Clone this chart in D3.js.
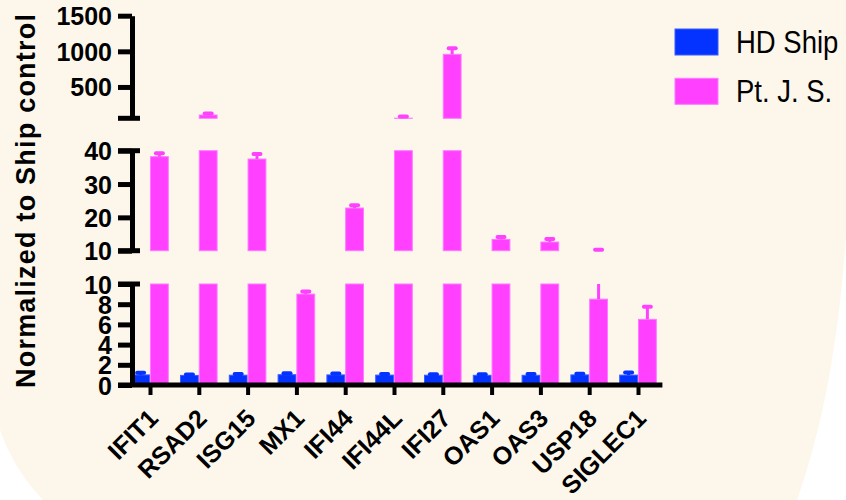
<!DOCTYPE html>
<html lang="en">
<head>
<meta charset="UTF-8">
<title>Normalized to Ship control</title>
<script src="https://d3js.org/d3.v7.min.js"></script>
<style>
    body { margin: 0; background: #ffffff; }
    svg { display: block; font-family: "Liberation Sans", Arial, sans-serif; }
    .tick text { font-weight: bold; fill: #000; }
</style>
</head>
<body>
<svg width="846" height="500"></svg>
<script>
// data
var genes = ["IFIT1", "RSAD2", "ISG15", "MX1", "IFI44", "IFI44L", "IFI27", "OAS1", "OAS3", "USP18", "SIGLEC1"];
var seriesNames = ["HD Ship", "Pt. J. S."];
var hdShip    = [1.00, 0.95, 0.97, 1.02, 1.00, 0.98, 0.97, 0.96, 0.96, 1.00, 0.98];
var hdShipErr = [0.22, 0.10, 0.12, 0.14, 0.15, 0.10, 0.10, 0.10, 0.12, 0.12, 0.25];
var ptJS      = [38.2, 106, 37.5, 9.0, 22.8, 62, 958, 13.4, 12.6, 8.5, 6.5];
var ptJSErr   = [1.0, 20, 1.5, 0.25, 0.8, 22, 84, 0.7, 0.9, 1.75, 1.25];

// broken y axis: three pieces
var lowTicks = [0, 2, 4, 6, 8, 10];
var midTicks = [10, 20, 30, 40];
var topTicks = [500, 1000, 1500];
var lowDomain = [0, 10], midDomain = [10, 40], topDomain = [60, 1500];

var colors = ["#0433ff", "#ff40ff"];
var edge = ["#3a5cff", "#ff78ff"];

var svg = d3.select("svg");
var W = 846, H = 500;

// background: cream sheet with white bottom corners
svg.append("rect").attr("width", W).attr("height", H).attr("fill", "#ffffff");
svg.append("path")
    .attr("d", "M0,0 H846 V235 Q836,390 797,500 H43 Q14,470 0,430 Z")
    .attr("fill", "#fdf7eb");

var axisX = 132;
var segs = [
    { y: d3.scaleLinear().domain(lowDomain).range([385, 284]), ticks: lowTicks, capTop: true, capBottom: false },
    { y: d3.scaleLinear().domain(midDomain).range([250.7, 150.7]), ticks: midTicks, capTop: true, capBottom: true },
    { y: d3.scaleLinear().domain(topDomain).range([118.3, 15.7]), ticks: topTicks, capTop: false, capBottom: true }
];

var x = d3.scaleBand().domain(genes).range([119.5, 668.5]).padding(0.25);
var xs = d3.scaleBand().domain(seriesNames).range([0, x.bandwidth()]).paddingInner(0.05);

var rows = [];
genes.forEach(function(g, i) {
    rows.push({ gene: g, s: 0, v: hdShip[i], e: hdShipErr[i] });
    rows.push({ gene: g, s: 1, v: ptJS[i], e: ptJSErr[i] });
});

var plot = svg.append("g");

segs.forEach(function(seg) {
    var y = seg.y, lo = y.domain()[0], hi = y.domain()[1];
    var g = plot.append("g");

    // bars clipped to the piece
    g.selectAll("rect")
        .data(rows.filter(function(d) { return d.v > lo; }))
        .enter().append("rect")
        .attr("x", function(d) { return x(d.gene) + xs(seriesNames[d.s]); })
        .attr("width", xs.bandwidth())
        .attr("y", function(d) { return y(Math.min(d.v, hi)); })
        .attr("height", function(d) { return y(lo) - y(Math.min(d.v, hi)); })
        .attr("fill", function(d) { return colors[d.s]; })
        .attr("stroke", function(d) { return edge[d.s]; })
        .attr("stroke-width", 1);

    // upper error bars
    var errs = rows.filter(function(d) { return Math.min(d.v + d.e, hi) > Math.max(d.v, lo); });
    g.selectAll("line.err")
        .data(errs)
        .enter().append("line")
        .attr("class", "err")
        .attr("x1", function(d) { return x(d.gene) + xs(seriesNames[d.s]) + xs.bandwidth() / 2; })
        .attr("x2", function(d) { return x(d.gene) + xs(seriesNames[d.s]) + xs.bandwidth() / 2; })
        .attr("y1", function(d) { return y(Math.max(d.v, lo)); })
        .attr("y2", function(d) { return y(Math.min(d.v + d.e, hi)); })
        .attr("stroke", function(d) { return colors[d.s]; })
        .attr("stroke-width", 3);

    var caps = rows.filter(function(d) { return d.v + d.e >= lo && d.v + d.e <= hi; });
    g.selectAll("line.cap")
        .data(caps)
        .enter().append("line")
        .attr("class", "cap")
        .attr("x1", function(d) { return x(d.gene) + xs(seriesNames[d.s]) + xs.bandwidth() / 2 - 3.5; })
        .attr("x2", function(d) { return x(d.gene) + xs(seriesNames[d.s]) + xs.bandwidth() / 2 + 3.5; })
        .attr("y1", function(d) { return y(d.v + d.e); })
        .attr("y2", function(d) { return y(d.v + d.e); })
        .attr("stroke", function(d) { return colors[d.s]; })
        .attr("stroke-width", 4)
        .attr("stroke-linecap", "round");
});

// y axis pieces
segs.forEach(function(seg) {
    var ax = svg.append("g")
        .attr("transform", "translate(" + axisX + ",0)")
        .call(d3.axisLeft(seg.y).tickValues(seg.ticks).tickFormat(d3.format("d"))
            .tickSize(14).tickSizeOuter(0).tickPadding(6));
    ax.select(".domain").attr("stroke", "#000").attr("stroke-width", 5);
    ax.selectAll(".tick line").attr("stroke", "#000").attr("stroke-width", 5);
    ax.selectAll(".tick text").style("font-size", "25px").attr("dy", "0.36em");
    var d = seg.y.domain();
    if (seg.capTop) {
        ax.append("line").attr("x1", -14).attr("x2", 8)
            .attr("y1", seg.y(d[1])).attr("y2", seg.y(d[1]))
            .attr("stroke", "#000").attr("stroke-width", 5);
    }
    if (seg.capBottom) {
        ax.append("line").attr("x1", -14).attr("x2", 8)
            .attr("y1", seg.y(d[0])).attr("y2", seg.y(d[0]))
            .attr("stroke", "#000").attr("stroke-width", 5);
    }
});

// x axis
var y0 = segs[0].y(0);
var xEnd = x(genes[genes.length - 1]) + x.bandwidth() / 2 + x.step() / 2;
svg.append("line")
    .attr("x1", axisX - 14).attr("x2", xEnd)
    .attr("y1", y0).attr("y2", y0)
    .attr("stroke", "#000").attr("stroke-width", 5);

var xa = svg.append("g")
    .attr("transform", "translate(" + (x.bandwidth() / 2) + "," + y0 + ")")
    .call(d3.axisBottom(d3.scalePoint().domain(genes).range([x(genes[0]), x(genes[genes.length - 1])])).tickSize(10).tickSizeOuter(0));
xa.select(".domain").remove();
xa.selectAll(".tick line").attr("stroke", "#000").attr("stroke-width", 4);
xa.selectAll(".tick text")
    .style("font-size", "25px")
    .attr("text-anchor", "end")
    .attr("x", 0).attr("y", 0).attr("dy", 0)
    .attr("transform", "translate(9,35) rotate(-45)");

// y title
svg.append("text")
    .attr("transform", "translate(35,201) rotate(-90)")
    .attr("text-anchor", "middle")
    .attr("textLength", 374)
    .attr("lengthAdjust", "spacing")
    .style("font-size", "27px")
    .style("font-weight", "bold")
    .text("Normalized to Ship control");

// legend
var legend = svg.append("g").selectAll("g")
    .data(seriesNames)
    .enter().append("g")
    .attr("transform", function(d, i) { return "translate(675," + (29 + i * 49.3) + ")"; });

legend.append("rect")
    .attr("width", 43).attr("height", 26)
    .attr("fill", function(d, i) { return colors[i]; })
    .attr("stroke", function(d, i) { return edge[i]; })
    .attr("stroke-width", 1);

legend.append("text")
    .attr("transform", "translate(61,23.5) scale(1,1.12)")
    .style("font-size", "27.5px")
    .text(function(d) { return d; });
</script>
</body>
</html>
